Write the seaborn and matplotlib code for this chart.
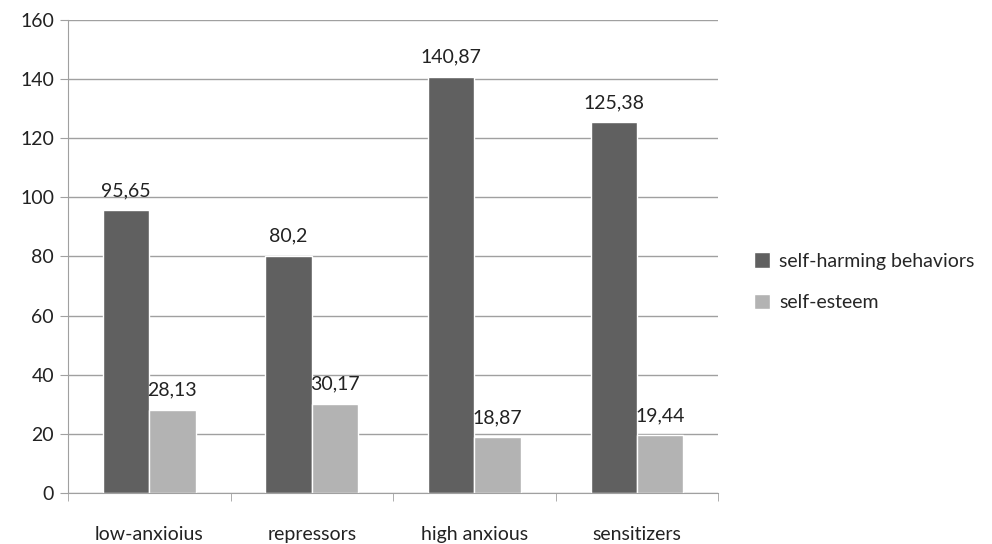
import pandas as pd
import matplotlib.pyplot as plt
import seaborn as sns

groups = ['low-anxioius', 'repressors', 'high anxious', 'sensitizers']
self_harm = [95.65, 80.2, 140.87, 125.38]
self_esteem = [28.13, 30.17, 18.87, 19.44]
series_names = ['self-harming behaviors', 'self-esteem']
y_ticks = [0, 20, 40, 60, 80, 100, 120, 140, 160]

df = pd.DataFrame({
    'group': groups * 2,
    'value': self_harm + self_esteem,
    'series': [series_names[0]] * 4 + [series_names[1]] * 4,
})

sns.set_style('white')
plt.rcParams['font.family'] = ['Lato', 'DejaVu Sans']
FS = 14

fig = plt.figure(figsize=(9.92, 5.44), dpi=100)
ax = fig.add_axes([0.0685, 0.094, 0.6555, 0.869])

sns.barplot(data=df, x='group', y='value', hue='series', order=groups,
            hue_order=series_names, palette=['#606060', '#b3b3b3'],
            width=0.57, saturation=1, ax=ax, errorbar=None)

# data labels with comma decimals
for cont in ax.containers:
    labels = [f'{b.get_height():g}'.replace('.', ',') for b in cont]
    ax.bar_label(cont, labels=labels, padding=8, fontsize=FS, color='#222222')

ax.set_ylim(0, 160)
ax.set_xlim(-0.5, 3.5)
ax.set_yticks(y_ticks)
ax.yaxis.grid(True, color='#a0a0a0', linewidth=1)
ax.set_axisbelow(True)
ax.set_xlabel('')
ax.set_ylabel('')

for side in ['top', 'right']:
    ax.spines[side].set_visible(False)
for side in ['left', 'bottom']:
    ax.spines[side].set_color('#a0a0a0')

# y ticks as short outside marks; x ticks at category boundaries
ax.tick_params(axis='y', length=6, color='#a0a0a0', direction='out', left=True,
               labelsize=FS, labelcolor='#222222', pad=4)
ax.set_xticks([0, 1, 2, 3])
ax.set_xticklabels(groups)
ax.set_xticks([-0.5, 0.5, 1.5, 2.5, 3.5], minor=True)
ax.tick_params(axis='x', which='major', length=0, labelsize=FS,
               labelcolor='#222222', pad=24)
ax.tick_params(axis='x', which='minor', length=6, color='#a0a0a0',
               direction='out', bottom=True)

ax.legend(loc='center left', bbox_to_anchor=(0.752, 0.482), bbox_transform=fig.transFigure,
          frameon=False, fontsize=FS, handlelength=0.85, handleheight=0.85,
          handletextpad=0.45, labelspacing=1.25, borderaxespad=0)

fig.savefig('out.png', dpi=100)
